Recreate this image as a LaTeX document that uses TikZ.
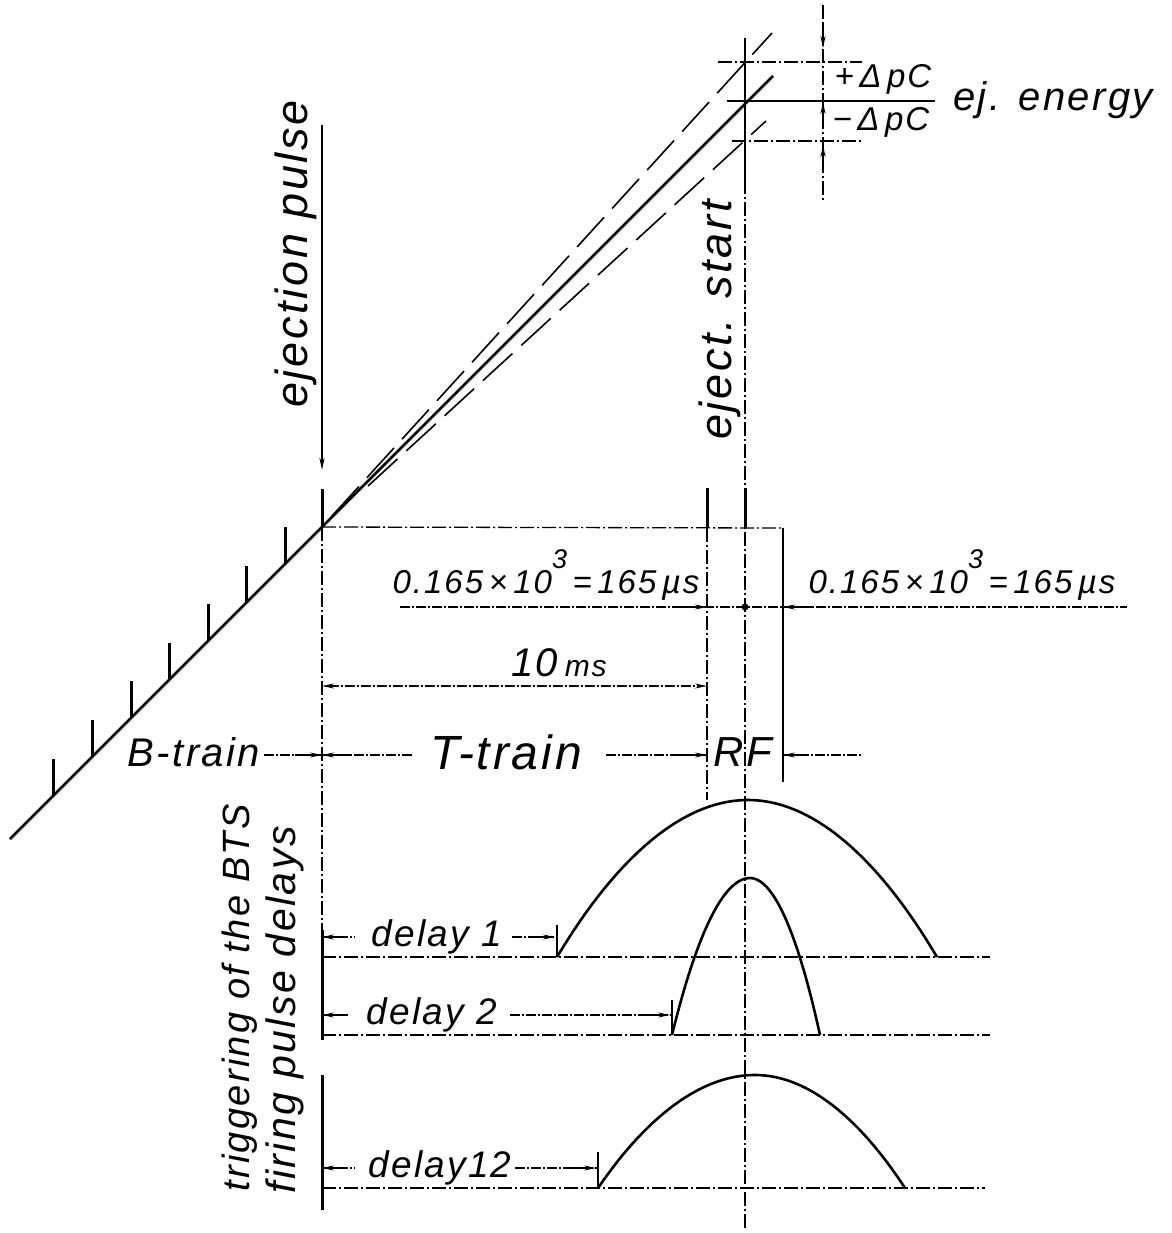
\documentclass[tikz,border=0pt]{standalone}
\usepackage{fontspec}
\setmainfont{Liberation Sans}
\newfontfamily\hand[LetterSpace=6]{Liberation Sans}
\usetikzlibrary{arrows.meta}
\newcommand\hsz[1]{\fontsize{#1}{#1}\selectfont}
\begin{document}
\begin{tikzpicture}[x=1pt,y=-1pt,
  lbl/.style={inner sep=0pt, font=\hand\itshape},
  ctr/.style={line width=1.3pt, dash pattern=on 14pt off 3pt on 2pt off 3pt},
  sol/.style={line width=1.6pt},
  heavy/.style={line width=3pt},
  curve/.style={line width=2.6pt},
  tol/.style={line width=1.6pt, dash pattern=on 40pt off 12pt},
  tip/.style={-{Stealth[length=12pt,width=5pt]}},
  dimline/.style={line width=1.3pt, dash pattern=on 10pt off 2pt on 2pt off 2pt},
]
\useasboundingbox[fill=white] (0,0) rectangle (1171,1233);

% ---------- key coordinates ----------
\coordinate (rampL) at (10,839);
\coordinate (rampT) at (773,76);
\coordinate (O) at (322,527);

% ---------- ramp with B-train ticks ----------
\draw[curve] (rampL) -- (rampT);
\foreach \x in {53,92,131,169,208,246,285}
  \draw[heavy] (\x,{849-\x}) -- (\x,{812-\x});

% energy tolerance lines
\draw[tol] (332,516) -- (772,33);
\draw[tol] (368,486) -- (766,121);

% ---------- top right: energy marks ----------
\draw[ctr] (718,62) -- (862,62);
\draw[sol] (727,101) -- (935,101);
\draw[ctr] (732,141) -- (862,141);
\draw[ctr] (823,5) -- (823,200);
\draw[tip,line width=1.8pt] (823,22) -- (823,48);
\draw[tip,line width=1.8pt] (823,122) -- (823,102);
\draw[tip,line width=1.8pt] (823,170) -- (823,145);
\node[lbl,font=\hand\itshape\hsz{33}] (plus) at (883,79) {+\,Δ\,pC};
\node[lbl,font=\hand\itshape\hsz{33}] (minus) at (881,122) {−\,Δ\,pC};
\node[lbl,font=\hand\itshape\hsz{40}] (ejen) at (1053,100) {ej. energy};

% ---------- vertical lines ----------
% ejection pulse
\node[lbl,font=\hand\itshape\hsz{45},rotate=90] (ejp) at (296,254) {ejection pulse};
\draw[sol] (322,125) -- (322,465);
\draw[tip,line width=2pt] (322,440) -- (322,470);
\draw[heavy] (322,489) -- (O);
\draw[ctr] (O) -- (322,930);
\draw[heavy] (322,930) -- (322,1040);
\draw[heavy] (322,1075) -- (322,1210);

% eject start
\node[lbl,font=\hand\itshape\hsz{45},rotate=90] (ejs) at (720,320) {eject. start};
\draw[sol] (745,38) -- (745,180);
\draw[ctr] (745,180) -- (745,1230);
\draw[heavy] (745,488) -- (745,528);
\draw[heavy] (707,488) -- (707,528);
\draw[ctr] (707,528) -- (707,800);
\draw[sol] (783,528) -- (783,782);
\draw[ctr] (O) -- (783,528);

% ---------- 165 us dimensions ----------
\draw[dimline] (400,607) -- (1127,607);
\draw[tip,line width=1.5pt] (678,607) -- (707,607);
\draw[tip,line width=1.5pt] (812,607) -- (783,607);
\fill (745,607) circle (3.5pt);
\node[lbl,font=\hand\itshape\hsz{33},anchor=base] (dl) at (546,593)
  {0.165\,×\,10\raisebox{0.75em}{\hsz{27}3}\,=\,165\,µs};
\node[lbl,font=\hand\itshape\hsz{33},anchor=base] (dr) at (962,593)
  {0.165\,×\,10\raisebox{0.75em}{\hsz{27}3}\,=\,165\,µs};

% ---------- 10 ms ----------
\draw[dimline,{Stealth[length=12pt,width=5pt]}-{Stealth[length=12pt,width=5pt]}] (322,686) -- (707,686);
\node[lbl,anchor=base] (tenms) at (559,676) {\hsz{40}10\,\hsz{30}ms};

% ---------- train row ----------
\node[lbl,font=\hand\itshape\hsz{40}] (btrain) at (194,752) {B-train};
\node[lbl,font=\hand\itshape\hsz{48}] (ttrain) at (506,752) {T-train};
\node[lbl,font=\hand\itshape\hsz{42}] (rf) at (743,752) {RF};
\draw[dimline] (264,755) -- (322,755);
\draw[tip,line width=1.3pt] (295,755) -- (322,755);
\draw[dimline] (322,755) -- (412,755);
\draw[tip,line width=1.3pt] (350,755) -- (322,755);
\draw[dimline] (606,755) -- (707,755);
\draw[tip,line width=1.3pt] (680,755) -- (707,755);
\draw[dimline] (783,755) -- (862,755);
\draw[tip,line width=1.3pt] (808,755) -- (783,755);

% ---------- rotated labels bottom left ----------
\node[lbl,font=\hand\itshape\hsz{38},rotate=90] (trig) at (240,998) {triggering of the BTS};
\node[lbl,font=\hand\itshape\hsz{41},rotate=90] (fir) at (285,1010) {firing pulse delays};

% ---------- pulses ----------
\draw[ctr] (322,957) -- (990,957);
\draw[ctr] (322,1035) -- (990,1035);
\draw[ctr] (322,1188) -- (985,1188);
\draw[curve] (557,957) parabola bend (748,800) (937,957);
\draw[curve] (672,1035) parabola bend (750,878) (820,1035);
\draw[curve] (598,1188) parabola bend (755,1075) (905,1188);

% delay 1
\node[lbl,font=\hand\itshape\hsz{37}] (d1) at (437,937) {delay 1};
\draw[dimline] (322,937) -- (355,937);
\draw[tip,line width=1.3pt] (348,937) -- (322,937);
\draw[dimline] (512,937) -- (557,937);
\draw[tip,line width=1.3pt] (528,937) -- (555,937);
\draw[sol] (557,925) -- (557,957);
% delay 2
\node[lbl,font=\hand\itshape\hsz{37}] (d2) at (432,1015) {delay 2};
\draw[dimline] (322,1015) -- (350,1015);
\draw[tip,line width=1.3pt] (348,1015) -- (322,1015);
\draw[dimline] (510,1015) -- (672,1015);
\draw[tip,line width=1.3pt] (645,1015) -- (670,1015);
\draw[sol] (672,1000) -- (672,1035);
% delay 12
\node[lbl,font=\hand\itshape\hsz{37}] (d12) at (440,1168) {delay12};
\draw[dimline] (322,1168) -- (355,1168);
\draw[tip,line width=1.3pt] (348,1168) -- (322,1168);
\draw[dimline] (515,1168) -- (598,1168);
\draw[tip,line width=1.3pt] (570,1168) -- (596,1168);
\draw[sol] (598,1152) -- (598,1188);
\end{tikzpicture}
\end{document}
